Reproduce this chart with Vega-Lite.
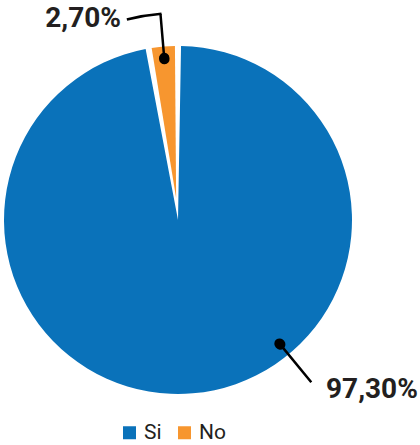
{
  "$schema": "https://vega.github.io/schema/vega-lite/v6.json",
  "width": 356,
  "height": 440,
  "autosize": {"type": "none"},
  "padding": {"left": 0, "top": 0, "right": 64, "bottom": 5},
  "background": "white",
  "config": {"view": {"stroke": null}},
  "data": {"values": [
    {"cat": "Si", "value": 97.3, "label": "97,30%"},
    {"cat": "No", "value": 2.7, "label": "2,70%"}
  ]},
  "layer": [
    {
      "mark": {"type": "arc", "outerRadius": 174, "padAngle": 0.035},
      "encoding": {
        "theta": {"field": "value", "type": "quantitative", "stack": true},
        "order": {"field": "value", "sort": "descending"},
        "color": {
          "field": "cat", "type": "nominal",
          "scale": {"domain": ["Si", "No"], "range": ["#0a72ba", "#f7962f"]},
          "legend": {
            "orient": "none", "legendX": 119, "legendY": 422, "direction": "horizontal",
            "title": null, "symbolType": "square", "symbolSize": 169, "symbolStrokeWidth": 0,
            "labelFont": "Roboto", "labelFontSize": 21, "labelColor": "#231f20",
            "labelOffset": 4, "columnPadding": 12, "padding": 0
          }
        },
        "opacity": {"condition": {"test": "datum.cat === 'Si'", "value": 1}, "value": 0}
      }
    },
    {
      "mark": {"type": "arc", "outerRadius": 174, "innerRadius": 22, "padAngle": 0.035},
      "encoding": {
        "theta": {"field": "value", "type": "quantitative", "stack": true},
        "order": {"field": "value", "sort": "descending"},
        "color": {"field": "cat", "type": "nominal"},
        "opacity": {"condition": {"test": "datum.cat === 'No'", "value": 1}, "value": 0}
      }
    },
    {
      "transform": [{"stack": "value", "groupby": [], "as": ["v0", "v1"], "sort": [{"field": "value", "order": "descending"}]}],
      "layer": [
        {
          "mark": {"type": "arc", "fill": null, "stroke": "#000000", "strokeWidth": 2.5, "innerRadius": 162, "outerRadius": 207, "thetaOffset": 0.0848, "theta2Offset": 0.0848},
          "encoding": {
            "theta": {"field": "v0", "type": "quantitative", "stack": null},
            "theta2": {"field": "v0"},
            "opacity": {"condition": {"test": "datum.cat === 'No'", "value": 1}, "value": 0}
          }
        },
        {
          "mark": {"type": "arc", "fill": null, "stroke": "#000000", "strokeWidth": 10.5, "strokeJoin": "round", "strokeCap": "round", "innerRadius": 161.5, "outerRadius": 162.5, "thetaOffset": 0.0848, "theta2Offset": 0.0848},
          "encoding": {
            "theta": {"field": "v0", "type": "quantitative", "stack": null},
            "theta2": {"field": "v0"},
            "opacity": {"condition": {"test": "datum.cat === 'No'", "value": 1}, "value": 0}
          }
        },
        {
          "mark": {"type": "arc", "fill": null, "stroke": "#000000", "strokeWidth": 2.5, "innerRadius": 161, "outerRadius": 210, "thetaOffset": 2.454, "theta2Offset": 2.454},
          "encoding": {
            "theta": {"field": "v0", "type": "quantitative", "stack": null},
            "theta2": {"field": "v0"},
            "opacity": {"condition": {"test": "datum.cat === 'Si'", "value": 1}, "value": 0}
          }
        },
        {
          "mark": {"type": "arc", "fill": null, "stroke": "#000000", "strokeWidth": 10.5, "strokeJoin": "round", "strokeCap": "round", "innerRadius": 160, "outerRadius": 161, "thetaOffset": 2.454, "theta2Offset": 2.454},
          "encoding": {
            "theta": {"field": "v0", "type": "quantitative", "stack": null},
            "theta2": {"field": "v0"},
            "opacity": {"condition": {"test": "datum.cat === 'Si'", "value": 1}, "value": 0}
          }
        },
        {
          "mark": {"type": "arc", "fill": null, "stroke": "#000000", "strokeWidth": 2.5, "innerRadius": 207, "outerRadius": 207, "thetaOffset": -0.08, "theta2Offset": -0.08},
          "encoding": {
            "theta": {"field": "v0", "type": "quantitative", "stack": null},
            "theta2": {"field": "v1"},
            "opacity": {"condition": {"test": "datum.cat === 'No'", "value": 1}, "value": 0}
          }
        }
      ]
    },
    {
      "mark": {"type": "text", "radius": 201.2, "thetaOffset": -0.2024, "align": "right", "baseline": "alphabetic", "font": "Roboto", "fontSize": 28, "fontWeight": "bold", "color": "#231f20"},
      "encoding": {
        "theta": {"field": "value", "type": "quantitative", "stack": true},
        "order": {"field": "value", "sort": "descending"},
        "text": {"field": "label"},
        "opacity": {"condition": {"test": "datum.cat === 'No'", "value": 1}, "value": 0}
      }
    },
    {
      "mark": {"type": "text", "radius": 231.5, "thetaOffset": -0.609, "align": "left", "baseline": "alphabetic", "font": "Roboto", "fontSize": 28, "fontWeight": "bold", "color": "#231f20"},
      "encoding": {
        "theta": {"field": "value", "type": "quantitative", "stack": true},
        "order": {"field": "value", "sort": "descending"},
        "text": {"field": "label"},
        "opacity": {"condition": {"test": "datum.cat === 'Si'", "value": 1}, "value": 0}
      }
    }
  ]
}
